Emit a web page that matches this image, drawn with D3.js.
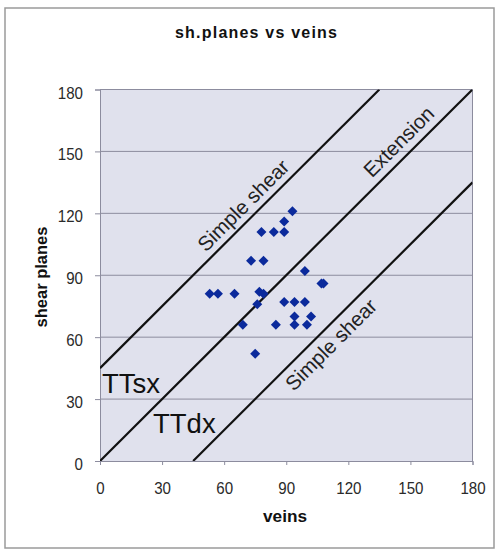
<!DOCTYPE html>
<html><head><meta charset="utf-8">
<script src="https://cdn.jsdelivr.net/npm/d3@7"></script>
<style>body{margin:0;background:#fff;}svg{display:block;font-family:Arial,"Liberation Sans",sans-serif;}</style>
</head><body><svg id="c" width="498" height="550"></svg>
<script>
const veins =        [93,89,78,84,89,73,79,99,107,108,53,57,65,77,79,76,89,94,99,69,85,94,94,102,100,75];
const shearPlanes =  [121,116,111,111,111,97,97,92,86,86,81,81,81,82,81,76,77,77,77,66,66,70,66,70,66,52];
const ticks = [0,30,60,90,120,150,180];
const refLines = [
  {name:"Simple shear", offset:45},
  {name:"Extension", offset:0},
  {name:"Simple shear", offset:-45}
];
const zoneLabels = ["TTsx","TTdx"];
const title = "sh.planes vs veins";
const xTitle = "veins", yTitle = "shear planes";

const svg = d3.select("#c");
svg.append("rect").attr("x",5).attr("y",8).attr("width",489).attr("height",540)
  .attr("fill","#fff").attr("stroke","#9a9a9a").attr("stroke-width",1.5);

const x = d3.scaleLinear().domain([0,180]).range([100,472.5]);
const y = d3.scaleLinear().domain([0,180]).range([461,89.5]);

svg.append("rect").attr("x",x(0)).attr("y",y(180)).attr("width",x(180)-x(0)).attr("height",y(0)-y(180))
  .attr("fill","#e0e1ed");

svg.append("g").selectAll("line").data(ticks.filter(t=>t>0)).join("line")
  .attr("x1",x(0)).attr("x2",x(180)).attr("y1",d=>y(d)).attr("y2",d=>y(d))
  .attr("stroke","#8c8c9e").attr("stroke-width",1);
svg.append("line").attr("x1",x(180)).attr("x2",x(180)).attr("y1",y(180)).attr("y2",y(0))
  .attr("stroke","#8c8c9e");

const xa = svg.append("g").attr("transform",`translate(0,${y(0)})`)
  .call(d3.axisBottom(x).tickValues(ticks).tickSize(4).tickPadding(17));
const ya = svg.append("g").attr("transform",`translate(${x(0)},0)`)
  .call(d3.axisLeft(y).tickValues(ticks).tickSize(5).tickPadding(12));
[xa,ya].forEach(a=>{
  a.select(".domain").attr("stroke","#8c8c9e");
  a.selectAll(".tick line").attr("stroke","#8c8c9e");
  a.selectAll("text").attr("font-size",17).attr("fill","#2a2a2a")
    .attr("font-family","Arial, Liberation Sans, sans-serif")
    .attr("lengthAdjust","spacingAndGlyphs")
    .attr("textLength",function(){return this.textContent.length*8.4;});
});
xa.selectAll("text").attr("dy","0.71em");
ya.selectAll("text").attr("dy","0.5em");

svg.append("clipPath").attr("id","pc").append("rect")
  .attr("x",x(0)).attr("y",y(180)).attr("width",x(180)-x(0)).attr("height",y(0)-y(180));

const lg = svg.append("g").attr("clip-path","url(#pc)");
refLines.forEach(r=>{
  const x0 = Math.max(0,-r.offset), x1 = Math.min(180,180-r.offset);
  lg.append("line").attr("x1",x(x0)).attr("y1",y(x0+r.offset)).attr("x2",x(x1)).attr("y2",y(x1+r.offset))
    .attr("stroke","#111").attr("stroke-width",2.2);
});

// line labels: position along line (veins value) and baseline offset perpendicular
const labPos = [{vx:74, dy:-7},{vx:149.5, dy:-8},{vx:106.5, dy:22}];
refLines.forEach((r,i)=>{
  const vx = labPos[i].vx, vy = vx + r.offset;
  svg.append("text").attr("transform",`translate(${x(vx)},${y(vy)}) rotate(-45) translate(0,${labPos[i].dy})`)
    .attr("text-anchor","middle").attr("font-size",20.5).attr("fill","#222").text(r.name);
});

svg.append("text").attr("x",102).attr("y",393).attr("font-size",27.5).attr("fill","#111").text(zoneLabels[0]);
svg.append("text").attr("x",153).attr("y",433).attr("font-size",27.5).attr("fill","#111").text(zoneLabels[1]);

const diamond = {draw(ctx,size){const r=Math.sqrt(size/2);ctx.moveTo(0,-r);ctx.lineTo(r,0);ctx.lineTo(0,r);ctx.lineTo(-r,0);ctx.closePath();}};
svg.append("g").selectAll("path").data(veins.map((v,i)=>[v,shearPlanes[i]])).join("path")
  .attr("transform",d=>`translate(${x(d[0])},${y(d[1])})`)
  .attr("d",d3.symbol(diamond,50))
  .attr("fill","#0b2a9c");

svg.append("text").attr("x",256).attr("y",38).attr("text-anchor","middle").attr("font-size",16).attr("font-weight","bold")
  .attr("textLength",162).attr("lengthAdjust","spacing").attr("fill","#111").text(title);
svg.append("text").attr("x",285).attr("y",522).attr("text-anchor","middle").attr("font-size",16.5).attr("font-weight","bold")
  .attr("textLength",44).attr("lengthAdjust","spacingAndGlyphs").attr("fill","#111").text(xTitle);
svg.append("text").attr("transform",`translate(47,277) rotate(-90)`).attr("text-anchor","middle").attr("font-size",16.5).attr("font-weight","bold")
  .attr("textLength",101).attr("lengthAdjust","spacingAndGlyphs").attr("fill","#111").text(yTitle);
</script></body></html>
